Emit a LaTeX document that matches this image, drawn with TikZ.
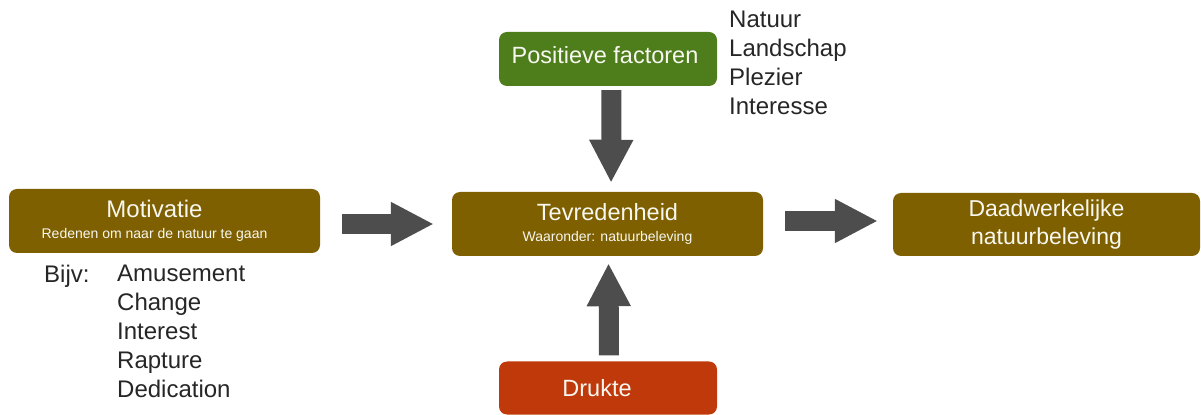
\documentclass[tikz,border=0pt]{standalone}
\usepackage{fontspec}
\setmainfont{Liberation Sans}
\usetikzlibrary{arrows.meta}
\definecolor{boxbrown}{HTML}{7F6000}
\definecolor{boxgreen}{HTML}{4E7D1C}
\definecolor{boxred}{HTML}{C0390B}
\definecolor{arrowgrey}{HTML}{4D4D4D}
\definecolor{boxtext}{HTML}{F7F7F0}
\definecolor{listtext}{HTML}{262626}
\begin{document}
\begin{tikzpicture}[>=latex,line join=bevel,
  box/.style={draw=none,rounded corners=8bp,text=boxtext,align=center,inner sep=0pt,
    font=\fontsize{23.5bp}{21bp}\selectfont},
  list/.style={anchor=north west,inner sep=0pt,align=left,text=listtext},
  blockarrow/.style={arrowgrey,line width=20bp,-{Triangle[length=43bp,width=41bp]}},
]
\useasboundingbox (0bp,0bp) rectangle (1201bp,415bp);
%%
\node (node_motivatie) at (164.5bp,194bp) [box,fill=boxbrown,minimum width=311bp,minimum height=64bp,font=\fontsize{24bp}{21bp}\selectfont] {Motivatie\hspace*{20bp}\\{\fontsize{14bp}{16bp}\selectfont Redenen om naar de natuur te gaan\hspace*{20bp}}};
  \node (node_tevreden) at (607.5bp,191bp) [box,fill=boxbrown,minimum width=311bp,minimum height=64bp] {Tevredenheid\\{\fontsize{14bp}{16bp}\selectfont Waaronder: natuurbeleving}};
  \node (node_daad) at (1046.5bp,190.5bp) [box,fill=boxbrown,minimum width=307bp,minimum height=63bp,font=\fontsize{23bp}{28bp}\selectfont] {Daadwerkelijke\\natuurbeleving};
  \node (node_positief) at (608bp,356bp) [box,fill=boxgreen,minimum width=218bp,minimum height=54bp,text depth=8bp] {Positieve factoren\hspace*{6bp}};
  \node (node_drukte) at (608bp,27bp) [box,fill=boxred,minimum width=218bp,minimum height=53bp] {Drukte\hspace*{22bp}};
%%
  \node (node_factoren) at (729bp,404bp) [list,font=\fontsize{24bp}{29bp}\selectfont] {Natuur\\Landschap\\Plezier\\Interesse};
  \node (node_bijv) at (44bp,150bp) [list,font=\fontsize{24bp}{29bp}\selectfont] {Bijv:};
  \node (node_voorbeelden) at (117bp,150bp) [list,font=\fontsize{24bp}{29bp}\selectfont] {Amusement\\Change\\Interest\\Rapture\\Dedication};
%%
  \draw [blockarrow,shorten <=22bp,shorten >=18bp] (node_motivatie.east |- node_tevreden.west) -- (node_tevreden.west);
  \draw [blockarrow,shorten <=22bp,shorten >=15bp] ([yshift=3bp]node_tevreden.east) -- ([yshift=3bp]node_tevreden.east -| node_daad.west);
  \draw [blockarrow,shorten <=4bp,shorten >=9bp] ([xshift=3.5bp]node_positief.south) -- ([xshift=3.5bp]node_tevreden.north);
  \draw [blockarrow,shorten <=6bp,shorten >=7bp] ([xshift=1bp]node_drukte.north) -- ([xshift=1bp]node_tevreden.south);
%
\end{tikzpicture}
\end{document}
